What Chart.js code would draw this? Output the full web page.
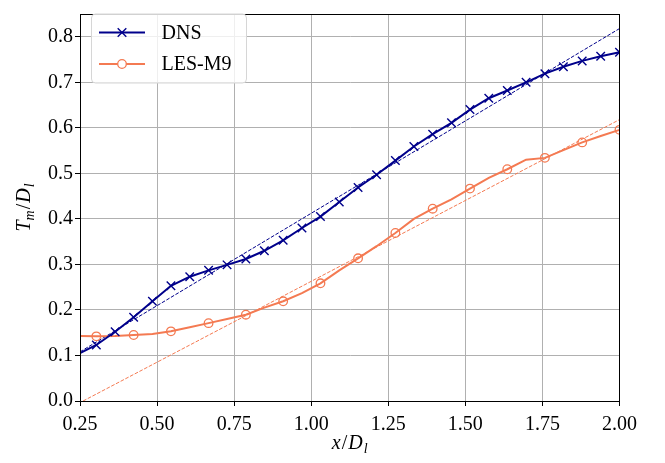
<!DOCTYPE html>
<html>
<head>
<meta charset="utf-8">
<script src="https://cdn.jsdelivr.net/npm/chart.js@4"></script>
<style>
  html, body { margin: 0; padding: 0; background: #fff; }
  canvas { display: block; }
</style>
</head>
<body>
<canvas id="chart" width="665" height="463"></canvas>
<script>
// --- data ---
const xPos = [0.25, 0.303, 0.364, 0.424, 0.485, 0.545, 0.606, 0.667, 0.727, 0.788,
              0.848, 0.909, 0.970, 1.030, 1.091, 1.152, 1.212, 1.273, 1.333, 1.394,
              1.455, 1.515, 1.576, 1.636, 1.697, 1.758, 1.818, 1.879, 1.939, 2.000];
const dnsValues = [0.105, 0.123, 0.152, 0.184, 0.219, 0.253, 0.273, 0.287, 0.299, 0.312,
                   0.330, 0.353, 0.380, 0.405, 0.437, 0.469, 0.497, 0.528, 0.559, 0.586,
                   0.611, 0.640, 0.665, 0.682, 0.700, 0.719, 0.734, 0.747, 0.757, 0.766];
const lesValues = [0.1425, 0.142, 0.143, 0.145, 0.147, 0.153, 0.162, 0.171, 0.180, 0.1895,
                   0.205, 0.219, 0.237, 0.2585, 0.287, 0.3134, 0.340, 0.369, 0.400, 0.4224,
                   0.443, 0.4665, 0.490, 0.509, 0.530, 0.534, 0.551, 0.568, 0.582, 0.5955];
const dnsFitX = [0.25, 2.0];
const dnsFitY = [0.108, 0.818];
const lesFitX = [0.26, 2.0];
const lesFitY = [0.0, 0.618];
const xTicks = [0.25, 0.50, 0.75, 1.00, 1.25, 1.50, 1.75, 2.00];
const yTicks = [0.0, 0.1, 0.2, 0.3, 0.4, 0.5, 0.6, 0.7, 0.8];
const seriesNames = ["DNS", "LES-M9"];

const DNS_COLOR = "#00008b";
const LES_COLOR = "#f47a52";
const FONT = '"Liberation Serif", "DejaVu Serif", serif';

const pts = (xs, ys) => xs.map((x, i) => ({ x, y: ys[i] }));

// markers: DNS on every sample but the first, LES on every other one
const dnsRadius = xPos.map((_, i) => (i === 0 ? 0 : 6));
const lesRadius = xPos.map((_, i) => (i % 2 === 1 ? 4.3 : 0));

// -----------------------------------------------------------------------
// Plugins: frame, axis titles with subscripts, matplotlib-style legend
// -----------------------------------------------------------------------

function drawRich(c, parts, cx, baseline) {
  const main = 20, sub = 14;
  const fontOf = (p) => (p.it ? "italic " : "") + (p.sub ? sub : main) + "px " + FONT;
  let total = 0;
  parts.forEach((p) => { c.font = fontOf(p); p.w = c.measureText(p.t).width; total += p.w + (p.kern || 0); });
  let x = cx - total / 2;
  c.textAlign = "left";
  c.textBaseline = "alphabetic";
  c.fillStyle = "#000";
  parts.forEach((p) => {
    x += p.kern || 0;
    c.font = fontOf(p);
    c.fillText(p.t, x, baseline + (p.sub ? 4 : 0));
    x += p.w;
  });
}

const framePlugin = {
  id: "frame",
  afterDatasetsDraw(chart) {
    const { ctx: c, chartArea: a } = chart;
    c.save();
    c.strokeStyle = "#000";
    c.lineWidth = 1;
    c.strokeRect(Math.round(a.left) + 0.5, Math.round(a.top) + 0.5,
                 Math.round(a.right - a.left) - 1, Math.round(a.bottom - a.top));
    c.restore();
  },
  afterDraw(chart) {
    const { ctx: c, chartArea: a } = chart;
    c.save();
    // x title
    drawRich(c, [
      { t: "x", it: true }, { t: "/", kern: 1 }, { t: "D", it: true, kern: 1 }, { t: "l", it: true, sub: true, kern: 1 },
    ], (a.left + a.right) / 2, 449);
    // y title, rotated
    c.translate(29.5, (a.top + a.bottom) / 2);
    c.rotate(-Math.PI / 2);
    drawRich(c, [
      { t: "T", it: true }, { t: "m", it: true, sub: true }, { t: "/", kern: 1 },
      { t: "D", it: true, kern: 1 }, { t: "l", it: true, sub: true, kern: 1 },
    ], 0, 0);
    c.restore();

    // legend
    const ds = chart.data.datasets;
    const bx = 91.5, by = 14, bw = 155, bh = 69;
    c.save();
    c.beginPath();
    c.roundRect(bx, by, bw, bh, 4);
    c.fillStyle = "rgba(255,255,255,0.8)";
    c.fill();
    c.strokeStyle = "#d6d6d6";
    c.lineWidth = 1;
    c.stroke();
    [0, 1].forEach((i) => {
      const y = i === 0 ? 32.5 : 64;
      const d = ds[i];
      c.strokeStyle = d.borderColor;
      c.lineWidth = d.borderWidth;
      c.beginPath(); c.moveTo(99, y); c.lineTo(145, y); c.stroke();
      c.lineWidth = d.pointBorderWidth;
      c.beginPath();
      if (i === 0) {
        const r = 4.3;
        c.moveTo(122 - r, y - r); c.lineTo(122 + r, y + r);
        c.moveTo(122 - r, y + r); c.lineTo(122 + r, y - r);
        c.stroke();
      } else {
        c.arc(122, y, 4.3, 0, Math.PI * 2);
        c.fillStyle = "#fff";
        c.fill();
        c.stroke();
      }
      c.fillStyle = "#000";
      c.font = "20px " + FONT;
      c.textAlign = "left";
      c.textBaseline = "middle";
      c.fillText(d.label, 161.5, y + 1);
    });
    c.restore();
  },
};

// -----------------------------------------------------------------------
// Chart
// -----------------------------------------------------------------------

new Chart(document.getElementById("chart"), {
  type: "line",
  data: {
    datasets: [
      {
        label: seriesNames[0],
        data: pts(xPos, dnsValues),
        borderColor: DNS_COLOR,
        borderWidth: 2,
        pointStyle: "crossRot",
        pointRadius: dnsRadius,
        pointBorderColor: DNS_COLOR,
        pointBorderWidth: 1.4,
        tension: 0,
        clip: 0,
      },
      {
        label: seriesNames[1],
        data: pts(xPos, lesValues),
        borderColor: LES_COLOR,
        borderWidth: 2,
        pointStyle: "circle",
        pointRadius: lesRadius,
        pointBorderColor: LES_COLOR,
        pointBackgroundColor: "rgba(0,0,0,0)",
        pointBorderWidth: 1.3,
        tension: 0,
        clip: 0,
      },
      {
        label: "DNS fit",
        data: pts(dnsFitX, dnsFitY),
        borderColor: DNS_COLOR,
        borderWidth: 1,
        borderDash: [3.7, 1.6],
        pointRadius: 0,
        clip: 0,
      },
      {
        label: "LES fit",
        data: pts(lesFitX, lesFitY),
        borderColor: LES_COLOR,
        borderWidth: 1,
        borderDash: [3.7, 1.6],
        pointRadius: 0,
        clip: 0,
      },
    ],
  },
  options: {
    responsive: false,
    animation: false,
    events: [],
    devicePixelRatio: 1,
    layout: { padding: { left: 0, right: 45.5, top: 3.5, bottom: 0 } },
    plugins: { legend: { display: false }, tooltip: { enabled: false } },
    scales: {
      x: {
        type: "linear",
        min: 0.25,
        max: 2.0,
        afterBuildTicks: (s) => { s.ticks = xTicks.map((v) => ({ value: v })); },
        afterFit: (s) => { s.height = 62; },
        grid: { color: "#b0b0b0", lineWidth: 1, tickColor: "#000", tickLength: 5 },
        border: { color: "#000", width: 1 },
        ticks: {
          color: "#000",
          padding: 7,
          maxRotation: 0,
          autoSkip: false,
          font: { family: FONT, size: 20 },
          callback: (v) => Number(v).toFixed(2),
        },
      },
      y: {
        type: "linear",
        min: 0,
        max: 0.85,
        afterBuildTicks: (s) => { s.ticks = yTicks.map((v) => ({ value: v })); },
        afterFit: (s) => { s.width = 80; },
        grid: { color: "#b0b0b0", lineWidth: 1, tickColor: "#000", tickLength: 5 },
        border: { color: "#000", width: 1 },
        ticks: {
          color: "#000",
          padding: 2,
          autoSkip: false,
          font: { family: FONT, size: 20 },
          callback: (v) => Number(v).toFixed(1),
        },
      },
    },
  },
  plugins: [framePlugin],
});
</script>
</body>
</html>
